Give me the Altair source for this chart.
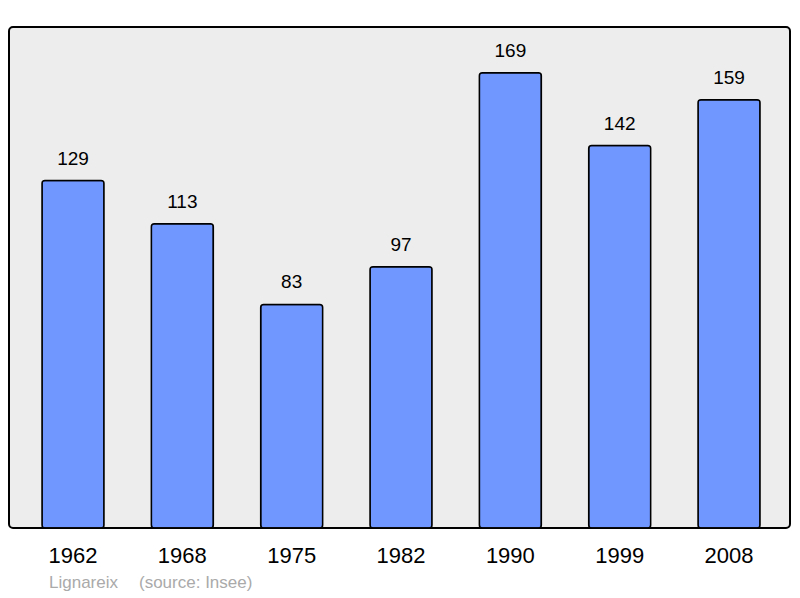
import altair as alt
import pandas as pd

years = ["1962", "1968", "1975", "1982", "1990", "1999", "2008"]
population = [129, 113, 83, 97, 169, 142, 159]
source_texts = ["Lignareix", "(source: Insee)"]

df = pd.DataFrame({"year": years, "pop": population})

x = alt.X("year:N", sort=years,
          scale=alt.Scale(paddingInner=0.433, paddingOuter=0.288, align=0.524),
          axis=alt.Axis(title=None, labelAngle=0, ticks=False, domain=False,
                        labelFontSize=22, labelColor="#000000", labelPadding=17,
                        labelFont="Liberation Sans"))
y = alt.Y("pop:Q", scale=alt.Scale(domain=[0, 186], nice=False),
          axis=None)

bars = alt.Chart(df).mark_bar(color="#7097ff", stroke="#000000", strokeWidth=1.5,
                              cornerRadius=3).encode(x=x, y=y)
labels = alt.Chart(df).mark_text(dy=-22, fontSize=19, font="Liberation Sans",
                                 color="#000000").encode(x=x, y=y, text="pop:Q")
src1 = alt.Chart(pd.DataFrame({"t": [source_texts[0]]})).mark_text(
    align="left", baseline="middle", fontSize=17, font="Liberation Sans", color="#aaaaaa"
).encode(x=alt.value(40), y=alt.value(556), text="t:N")
src2 = alt.Chart(pd.DataFrame({"t": [source_texts[1]]})).mark_text(
    align="left", baseline="middle", fontSize=17, font="Liberation Sans", color="#aaaaaa"
).encode(x=alt.value(130), y=alt.value(556), text="t:N")

chart = alt.layer(bars, labels, src1, src2).properties(
    width=781, height=501,
    padding={"left": 1, "top": 19, "right": 2, "bottom": 70},
    autosize=alt.AutoSizeParams(type="none"),
    background="#ffffff",
).configure_view(
    fill="#ededed", stroke="#000000", strokeWidth=2, cornerRadius=4
)

chart.save("out.html", embed_options={"renderer": "svg", "actions": False})
